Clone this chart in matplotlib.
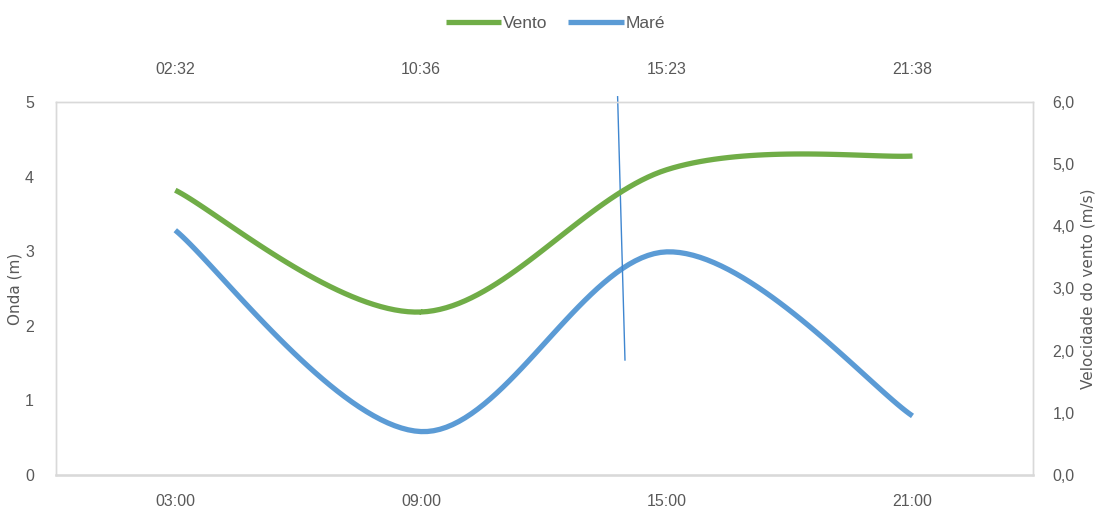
import matplotlib
matplotlib.use("Agg")
import matplotlib.pyplot as plt
import numpy as np

# horários (eixo inferior) e horários da maré (eixo superior)
horas = ["03:00", "09:00", "15:00", "21:00"]
horas_mare = ["02:32", "10:36", "15:23", "21:38"]

# onda (m) no eixo esquerdo, vento (m/s) no eixo direito
onda = [3.28, 0.58, 2.99, 0.79]
vento = [4.58, 2.62, 4.91, 5.13]

cor_vento = "#70AD47"
cor_mare = "#5B9BD5"
cor_texto = "#595959"
fonte_num = ["Liberation Sans", "DejaVu Sans"]


def suavizar(x, y, n=40):
    # curva Catmull-Rom passando pelos pontos, como a linha suavizada do Excel
    x = np.asarray(x, float)
    y = np.asarray(y, float)
    px = np.concatenate([[x[0]], x, [x[-1]]])
    py = np.concatenate([[y[0]], y, [y[-1]]])
    xs, ys = [], []
    for i in range(1, len(px) - 2):
        t = np.linspace(0, 1, n)
        for p, out in ((px, xs), (py, ys)):
            p0, p1, p2, p3 = p[i - 1], p[i], p[i + 1], p[i + 2]
            out.extend(0.5 * (2 * p1 + (-p0 + p2) * t
                              + (2 * p0 - 5 * p1 + 4 * p2 - p3) * t ** 2
                              + (-p0 + 3 * p1 - 3 * p2 + p3) * t ** 3))
    return np.array(xs), np.array(ys)


fig = plt.figure(figsize=(11, 5.15), dpi=100)
ax = fig.add_axes([0.051, 0.078, 0.888, 0.724])
ax2 = ax.twinx()

pos = np.arange(len(horas))
xm, ym = suavizar(pos, onda)
xv, yv = suavizar(pos, vento)
l_mare, = ax.plot(xm, ym, color=cor_mare, lw=3.8, solid_capstyle="butt", label="Maré")
l_vento, = ax2.plot(xv, yv, color=cor_vento, lw=3.8, solid_capstyle="butt", label="Vento")

ax.set_xlim(-0.485, 3.49)
ax.set_ylim(0, 5)
ax2.set_ylim(0, 6)
ax.set_yticks(range(0, 6))
ax2.set_yticks(np.arange(0, 6.1, 1))
ax2.set_yticklabels([f"{v:.1f}".replace(".", ",") for v in np.arange(0, 6.1, 1)])
ax.set_xticks(pos)
ax.set_xticklabels(horas)

topo = ax.secondary_xaxis("top")
topo.set_xticks(pos)
topo.set_xticklabels(horas_mare)

for a in (ax, ax2, topo):
    a.tick_params(length=0, colors=cor_texto, labelsize=11.5)
    for lab in a.get_xticklabels() + a.get_yticklabels():
        lab.set_family(fonte_num)
ax.tick_params(axis="x", pad=14)
ax.tick_params(axis="y", pad=16)
ax2.tick_params(axis="y", pad=14)
topo.tick_params(axis="x", pad=18)

for a in (ax, ax2):
    for s in a.spines.values():
        s.set_color("#D9D9D9")
        s.set_linewidth(1)
ax.spines["bottom"].set_linewidth(1.8)
for s in topo.spines.values():
    s.set_visible(False)

ax.set_ylabel("Onda (m)", color=cor_texto, fontsize=11, labelpad=2)
ax2.set_ylabel("Velocidade do vento (m/s)", color=cor_texto, fontsize=11, labelpad=4)

# traço vertical feito à mão sobre o gráfico
ax.plot([1.80, 1.815, 1.83], [5.07, 3.3, 1.54], color="#3F86D0", lw=1.0, clip_on=False)

fig.legend(handles=[l_vento, l_mare], loc="upper center", bbox_to_anchor=(0.505, 1.0),
           ncol=2, frameon=False, handlelength=3.2, handletextpad=0.1, columnspacing=1.2,
           prop={"family": fonte_num, "size": 12.5}, labelcolor=cor_texto)

fig.savefig("out.png", dpi=100, facecolor="white")
